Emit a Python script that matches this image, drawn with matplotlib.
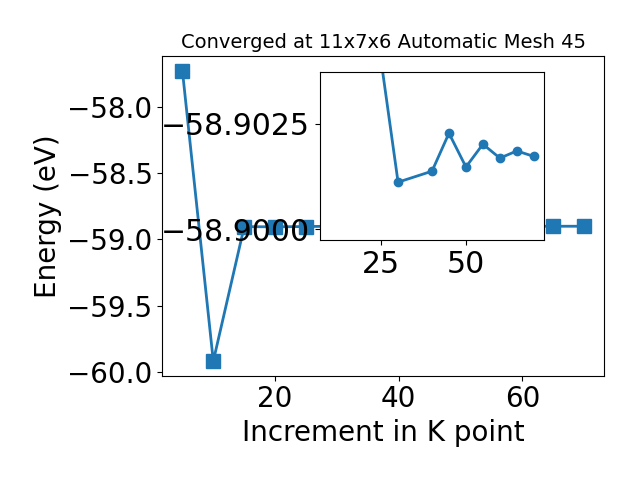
import matplotlib
matplotlib.use("Agg")
import matplotlib.pyplot as plt

# k-point increment vs total energy (eV)
kpoints = [5, 10, 15, 20, 25, 30, 40, 45, 50, 55, 60, 65, 70]
energy = [-57.729, -59.918, -58.905, -58.906, -58.9040, -58.90112,
          -58.90138, -58.90228, -58.90148, -58.90202, -58.90169,
          -58.90186, -58.90173]

main_xticks = [20, 40, 60]
main_yticks = [-58.0, -58.5, -59.0, -59.5, -60.0]
inset_xticks = [25, 50]
inset_yticks = [-58.9025, -58.9000]
inset_ylim = (-58.89975, -58.90373)

plt.rcParams["font.size"] = 20

fig = plt.figure(figsize=(6.4, 4.8), dpi=100)
ax = fig.add_axes([0.2536, 0.2173, 0.6906, 0.666])
ax.plot(kpoints, energy, marker="s", markersize=10, linewidth=2,
        color="#1f77b4")
ax.set_xticks(main_xticks)
ax.set_yticks(main_yticks)
ax.set_xlabel("Increment in K point")
ax.set_ylabel("Energy (eV)")
ax.set_title("Converged at 11x7x6 Automatic Mesh 45", fontsize=14)

# zoomed view of the converged tail
ax_in = fig.add_axes([0.5, 0.5, 0.35, 0.35])
ax_in.plot(kpoints[1:], energy[1:], marker="o", markersize=6, linewidth=2,
           color="#1f77b4")
ax_in.set_ylim(*inset_ylim)
ax_in.set_xticks(inset_xticks)
ax_in.set_yticks(inset_yticks)
ax_in.set_yticklabels([f"{v:.4f}".replace("-", "\u2212") for v in inset_yticks])
ax_in.tick_params(labelsize=21.5)

fig.savefig("out.png", dpi=100)
